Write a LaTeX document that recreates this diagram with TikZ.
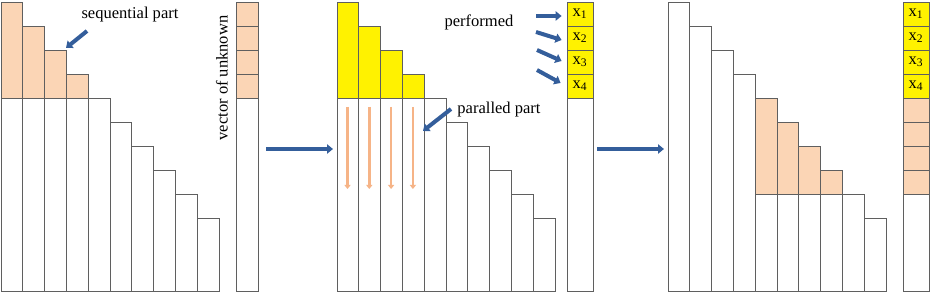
\documentclass[tikz,border=0pt]{standalone}
\usepackage{fontspec}
\setmainfont{Liberation Serif}
\usepackage{xcolor}
\usetikzlibrary{arrows.meta}

\definecolor{peach}{RGB}{251,213,181}
\definecolor{flowblue}{RGB}{52,94,155}
\definecolor{dropor}{RGB}{246,180,135}
\definecolor{edgegray}{RGB}{95,95,95}

\begin{document}
\begin{tikzpicture}[
    x=0.75pt, y=-0.75pt,
    col/.style={draw=edgegray, line width=0.6pt},
    cell/.style={rectangle, draw=edgegray, line width=0.6pt, inner sep=0pt, minimum height=18pt, font=\fontsize{12.4}{14}\selectfont},
    lbl/.style={font=\fontsize{12.4}{14}\selectfont, inner sep=0pt},
    flow/.style={-{Triangle[length=4.5pt, width=7pt]}, line width=3pt, flowblue},
    drop/.style={-{Triangle[length=3pt, width=4.5pt]}, line width=2pt, dropor}
]
\useasboundingbox (0,0) rectangle (933,295);

% left panel
\foreach \i in {0,...,9}
  \draw[col, fill=white] ({1+21.8*\i},{2+24*\i}) rectangle ({1+21.8*(\i+1)},291);
\foreach \i in {0,...,3}
  \draw[col, fill=peach] ({1+21.8*\i},{2+24*\i}) rectangle ({1+21.8*(\i+1)},98);

\node[lbl] (seqlbl) at (130,15) {sequential part};
\coordinate (seqtail) at (87,31);
\coordinate (seqhead) at (66,48);
\draw[flow] (seqtail) -- (seqhead);

\node[lbl, rotate=90] (veclbl) at (222,78) {vector of unknown};

% left vector
\foreach \k in {1,...,4}
  \node[cell, fill=peach, minimum width=16.5pt] (u\k) at (247,{24*\k-10}) {};
\node[cell, fill=white, minimum width=16.5pt, minimum height=144.75pt] (u5) at (247,194.5) {};

\coordinate (fa) at (266,149);
\coordinate (fb) at (333,149);
\draw[flow] (fa) -- (fb);

% middle panel
\foreach \i in {0,...,9}
  \draw[col, fill=white] ({337+21.8*\i},{2+24*\i}) rectangle ({337+21.8*(\i+1)},291);
\foreach \i in {0,...,3}
  \draw[col, fill=yellow] ({337+21.8*\i},{2+24*\i}) rectangle ({337+21.8*(\i+1)},98);
\foreach \i in {0,...,3}
  \draw[drop] ({337+21.8*\i+10.5},107) -- ({337+21.8*\i+10.5},189);

\node[lbl] (parlbl) at (499,110) {paralled part};
\coordinate (partail) at (451,109);
\coordinate (parhead) at (423,131);
\draw[flow] (partail) -- (parhead);

\node[lbl] (perflbl) at (479,22) {performed};

% middle vector
\foreach \k in {1,...,4}
  \node[cell, fill=yellow, minimum width=19.5pt] (p\k) at (580,{24*\k-10}) {x\textsubscript{\k}};
\node[cell, fill=white, minimum width=19.5pt, minimum height=144.75pt] (p5) at (580,194.5) {};

\coordinate (pf1) at (536,16);
\coordinate (pf2) at (536,32);
\coordinate (pf3) at (537,50);
\coordinate (pf4) at (537,70);
\draw[flow] (pf1) -- ([xshift=-3.75pt]p1.west |- pf1);
\draw[flow] (pf2) -- ([xshift=-3.75pt,yshift=-1.5pt]p2.west);
\draw[flow] (pf3) -- ([xshift=-3.75pt,yshift=0.75pt]p3.west);
\draw[flow] (pf4) -- ([xshift=-4.5pt,yshift=2.25pt]p4.west);

\coordinate (fc) at (597,149);
\coordinate (fd) at (664,149);
\draw[flow] (fc) -- (fd);

% right panel
\foreach \i in {0,...,9}
  \draw[col, fill=white] ({668+21.8*\i},{2+24*\i}) rectangle ({668+21.8*(\i+1)},291);
\foreach \i in {4,...,7}
  \draw[col, fill=peach] ({668+21.8*\i},{2+24*\i}) rectangle ({668+21.8*(\i+1)},194);

% right vector
\foreach \k in {1,...,4}
  \node[cell, fill=yellow, minimum width=19.5pt] (r\k) at (916,{24*\k-10}) {x\textsubscript{\k}};
\foreach \k in {5,...,8}
  \node[cell, fill=peach, minimum width=19.5pt] (r\k) at (916,{24*\k-10}) {};
\node[cell, fill=white, minimum width=19.5pt, minimum height=72.75pt] (r9) at (916,242.5) {};
\end{tikzpicture}
\end{document}
